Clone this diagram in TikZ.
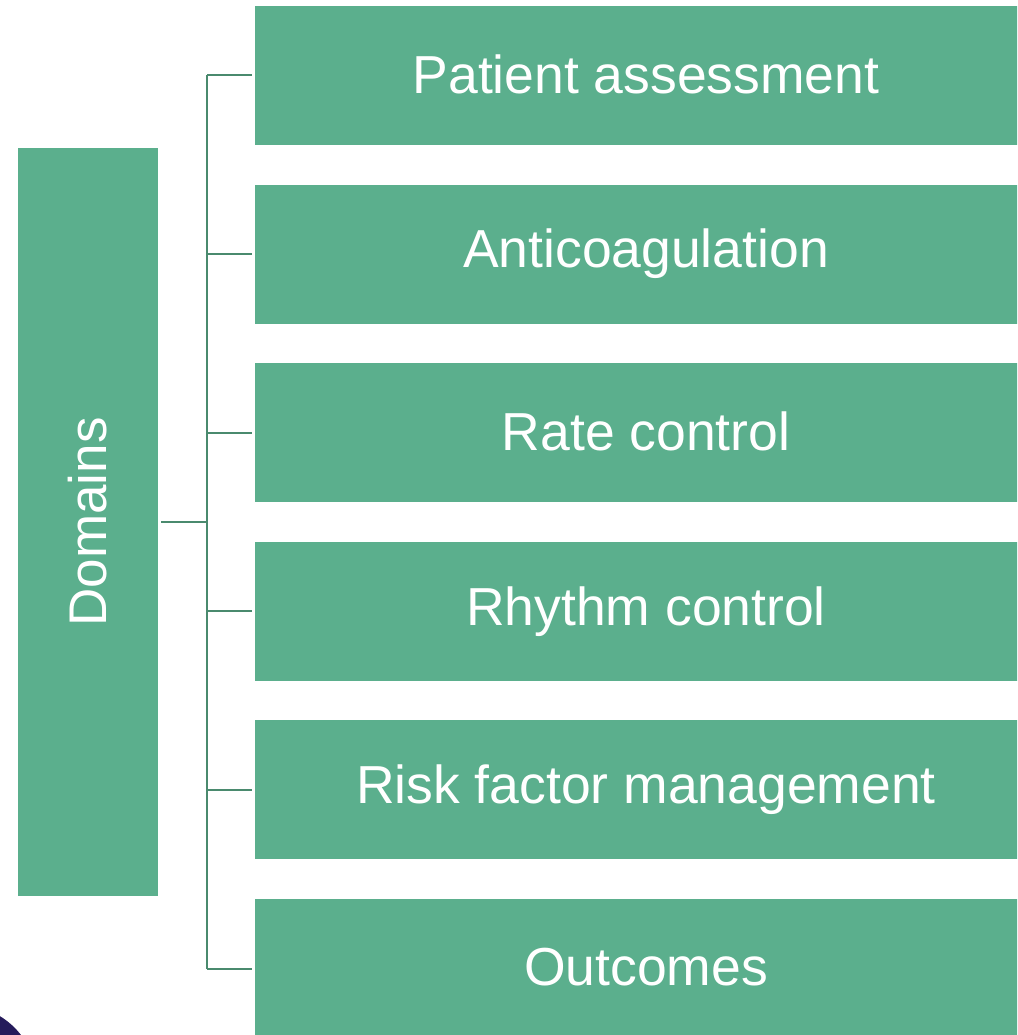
\documentclass[tikz,border=0pt]{standalone}
\usepackage{fontspec}
\setmainfont{Liberation Sans}
\usetikzlibrary{positioning}
\definecolor{boxgreen}{HTML}{5BAF8D}
\definecolor{linegreen}{HTML}{4A8A6E}
\definecolor{darkblob}{HTML}{251B5B}
\newlength{\lw}
\setlength{\lw}{2pt}
\tikzstyle{every picture}+=[x=1pt,y=-1pt]
\tikzstyle{every picture}+=[join=miter]
\tikzstyle{itembox}=[fill=boxgreen, draw=none, text=white]
\tikzstyle{itembox}+=[inner sep=0pt, outer sep=0pt]
\tikzstyle{itembox}+=[minimum width=782pt, minimum height=139pt]
\tikzstyle{itembox}+=[font=\fontsize{53.5}{64}\selectfont]
\tikzstyle{rootbox}=[fill=boxgreen, draw=none, text=white]
\tikzstyle{rootbox}+=[inner sep=0pt, outer sep=0pt]
\tikzstyle{rootbox}+=[minimum width=140pt, minimum height=748pt]
\tikzstyle{rootbox}+=[font=\fontsize{53}{64}\selectfont]
\tikzstyle{branch}=[draw=linegreen, line width=\lw]
\newcommand{\itemtext}[1]{\raisebox{3pt}{#1}}
\begin{document}
\begin{tikzpicture}
\useasboundingbox (0,0) rectangle (1017,1035);
\begin{scope}
\clip (0,0) rectangle (1017,1035);

\fill[darkblob] (-40,1082) circle (77);

\node[rootbox] (dom) at (88,522) {\rotatebox{90}{Domains}};

\node[itembox] (pa) at (646,75.5) {\itemtext{Patient assessment}};
\node[itembox] (ac) [below=39.6pt of pa] {\itemtext{Anticoagulation}};
\node[itembox] (rc) [below=39.6pt of ac] {\itemtext{Rate control}};
\node[itembox] (rh) [below=39.6pt of rc] {\itemtext{Rhythm control}};
\node[itembox] (rf) [below=39.6pt of rh] {\itemtext{Risk factor management}};
\node[itembox] (oc) [below=39.6pt of rf] {\itemtext{Outcomes}};

\coordinate (trunk) at (207,0);
\coordinate (top) at (trunk |- pa.west);
\coordinate (bot) at (trunk |- oc.west);
\coordinate (mid) at (trunk |- dom.east);

% tree
\draw[branch] ([xshift=3pt]dom.east) -- (mid);
\draw[branch] (top) -- (bot);
\draw[branch] (top) -- ([xshift=-3pt]pa.west);
\draw[branch] (trunk |- ac.west) -- ([xshift=-3pt]ac.west);
\draw[branch] (trunk |- rc.west) -- ([xshift=-3pt]rc.west);
\draw[branch] (trunk |- rh.west) -- ([xshift=-3pt]rh.west);
\draw[branch] (trunk |- rf.west) -- ([xshift=-3pt]rf.west);
\draw[branch] (bot) -- ([xshift=-3pt]oc.west);
\end{scope}
\end{tikzpicture}
\end{document}
